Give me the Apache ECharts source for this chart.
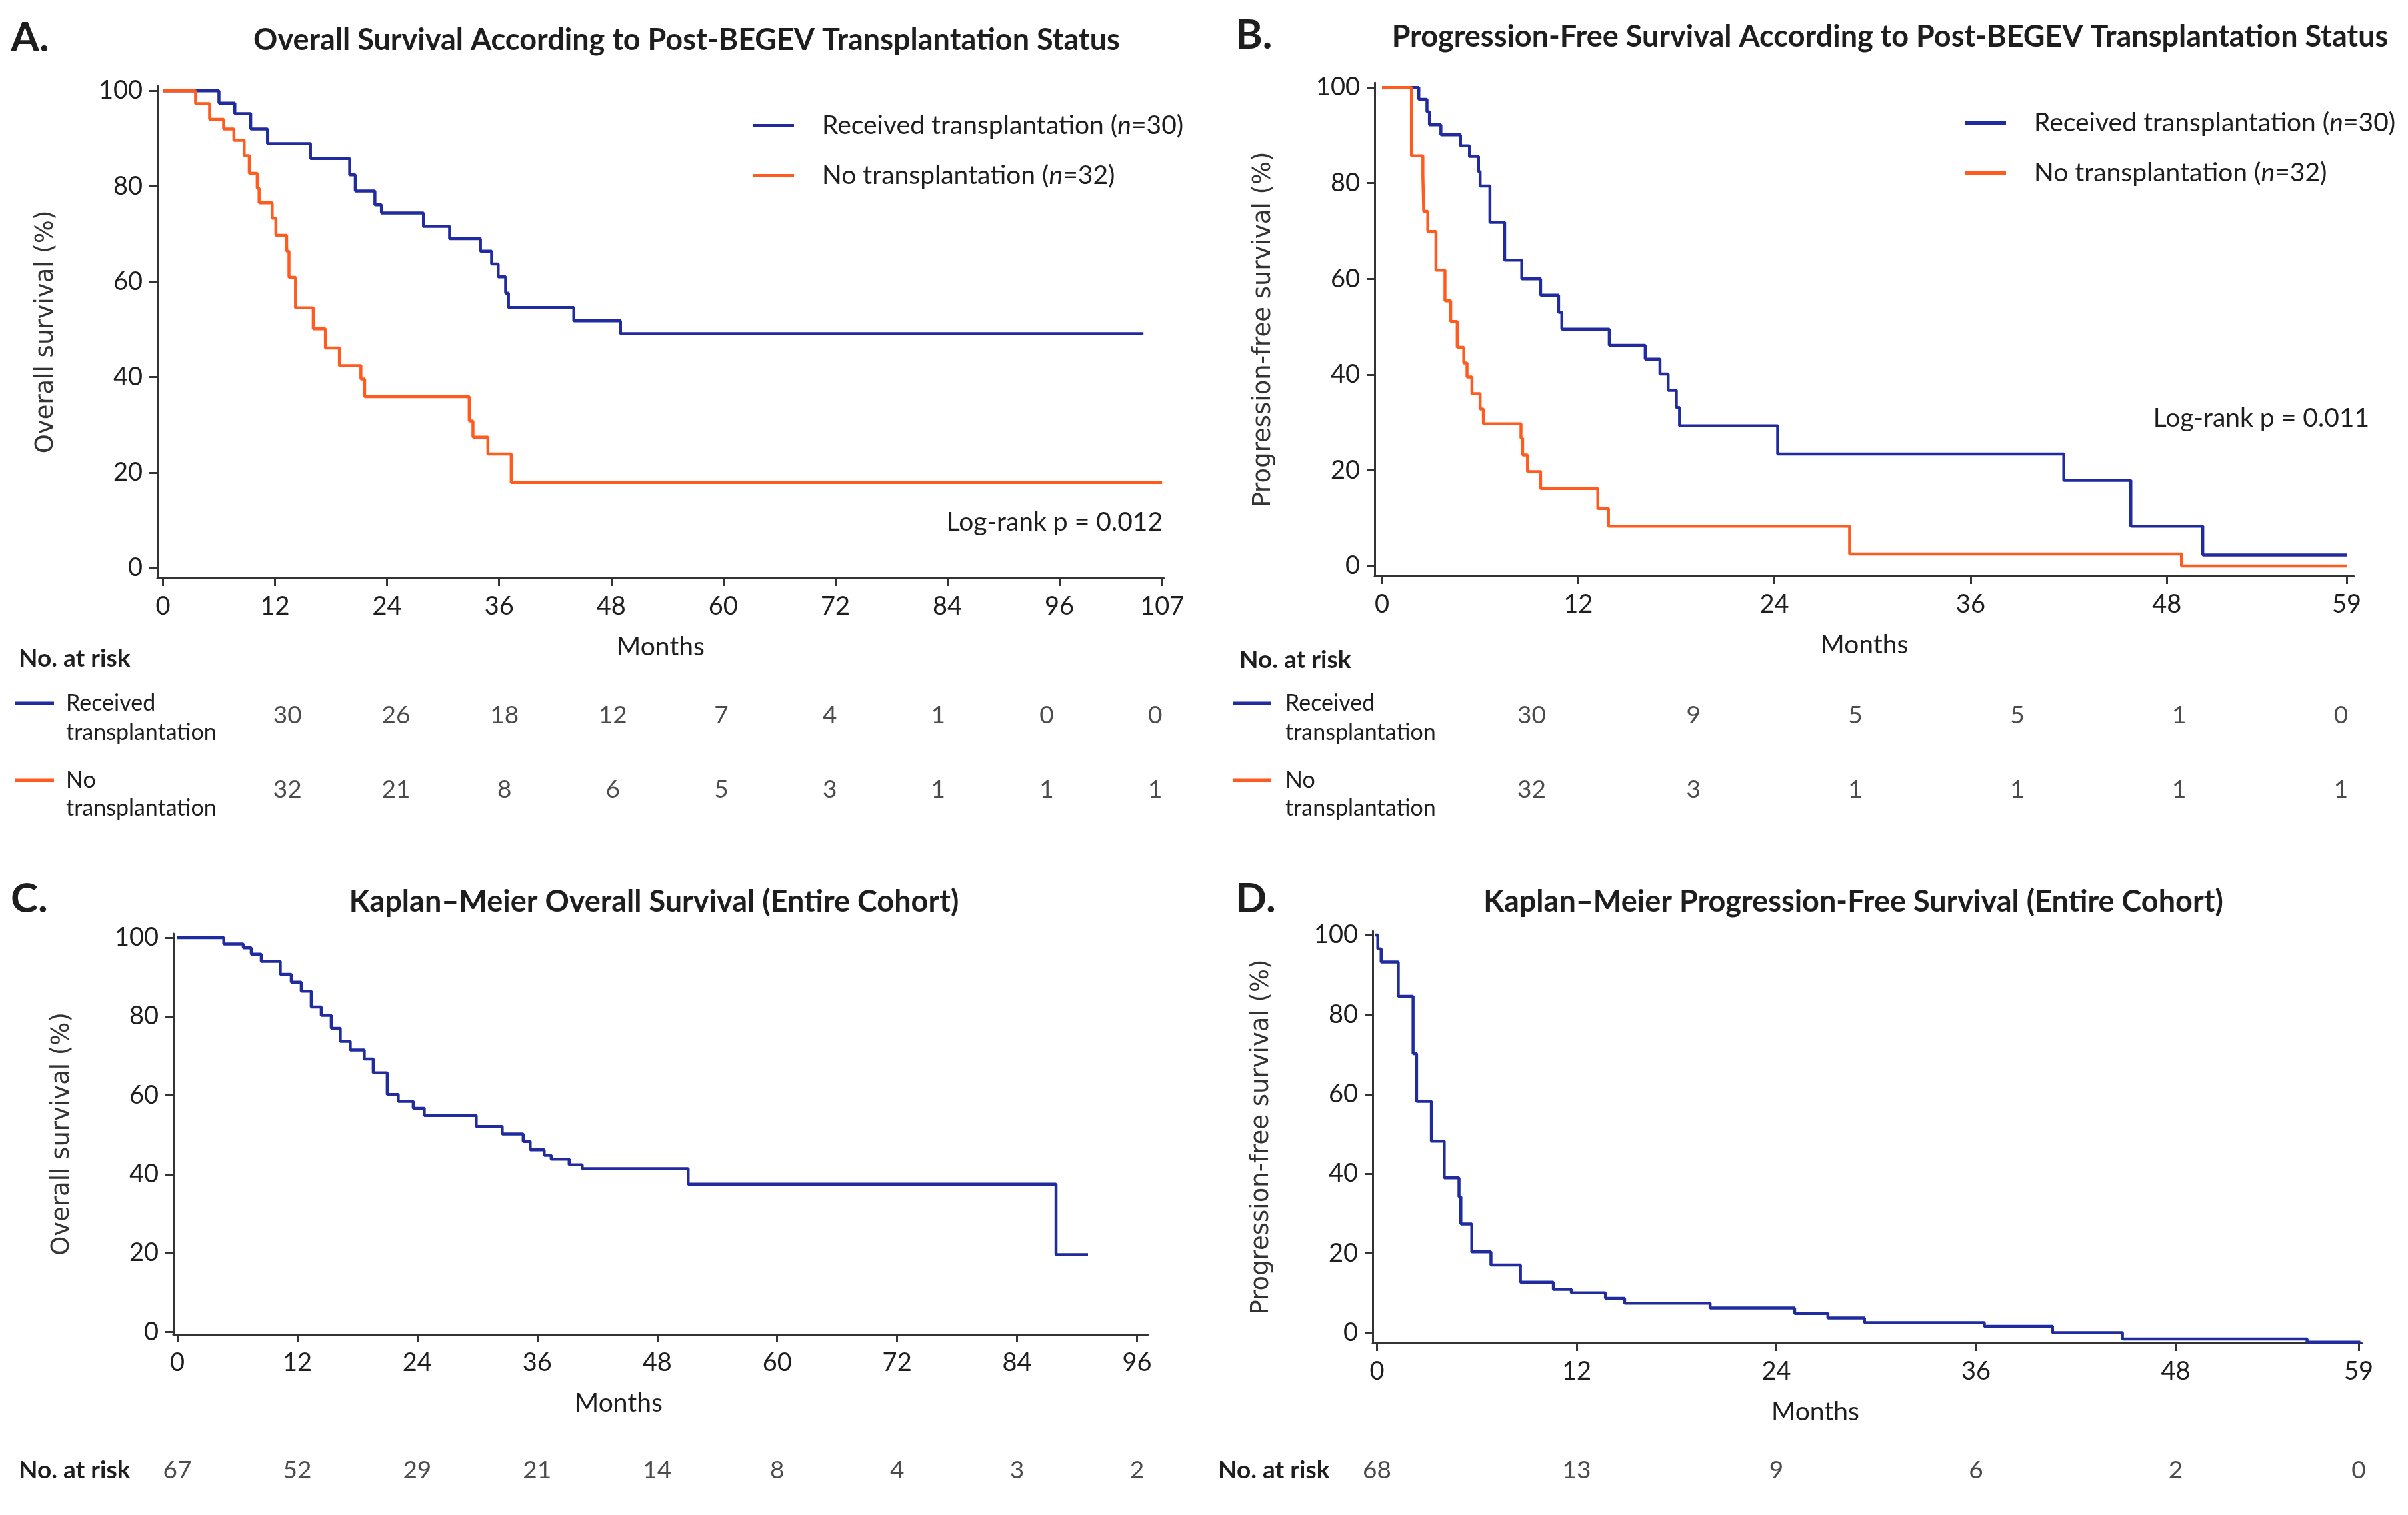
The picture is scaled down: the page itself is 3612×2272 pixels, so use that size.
<!DOCTYPE html>
<html>
<head>
<meta charset="utf-8">
<script src="https://cdn.jsdelivr.net/npm/echarts@6/dist/echarts.min.js"></script>
<style>
  html, body { margin: 0; padding: 0; background: #fff; }
  #chart { width: 3612px; height: 2272px; }
</style>
</head>
<body>
<div id="chart"></div>
<script>
// series names
var nameTx = 'Received transplantation (n=30)';
var nameNo = 'No transplantation (n=32)';

// A. overall survival by transplant status, [month, %]
var osTx = [[0,100],[6.0,97.4],[7.7,95.2],[9.4,92.0],[11.2,88.9],[15.8,85.8],[20.0,82.4],[20.6,79.0],[22.7,76.1],[23.4,74.4],[27.9,71.6],[30.7,69.0],[34.0,66.4],[35.2,63.7],[35.9,61.0],[36.7,57.6],[37.0,54.6],[44.0,51.8],[49.0,49.1],[105,49.1]];
var osNo = [[0,100],[3.5,97.3],[5.0,94.0],[6.5,92.0],[7.6,89.6],[8.7,86.4],[9.25,82.7],[10.1,79.6],[10.3,76.5],[11.7,73.3],[12.1,69.7],[13.25,66.4],[13.5,60.9],[14.2,54.5],[16.1,50.1],[17.4,46.1],[18.9,42.4],[21.2,39.6],[21.6,35.9],[32.8,30.8],[33.2,27.4],[34.8,23.9],[37.3,17.9],[107,17.9]];

// B. progression-free survival by transplant status
var pfsTx = [[0,100],[2.25,97.5],[2.75,94.9],[2.9,92.2],[3.6,90.1],[4.8,87.8],[5.35,85.6],[5.9,82.4],[6.0,79.4],[6.6,71.8],[7.5,63.9],[8.55,60.0],[9.7,56.6],[10.8,53.0],[11.0,49.5],[13.9,46.1],[16.1,43.2],[17.0,40.1],[17.5,36.7],[18.0,33.1],[18.2,29.3],[24.2,23.4],[41.7,17.9],[45.8,8.3],[50.2,2.3],[59,2.3]];
var pfsNo = [[0,100],[1.8,85.7],[2.5,81.4],[2.55,74.1],[2.8,69.9],[3.3,61.8],[3.85,55.4],[4.2,51.1],[4.6,45.7],[5.0,42.4],[5.2,39.5],[5.5,36.0],[6.0,32.8],[6.2,29.7],[8.5,26.7],[8.6,23.2],[8.9,19.7],[9.7,16.2],[13.2,12.0],[13.85,8.3],[28.6,2.5],[48.9,0],[59,0]];

// C. overall survival, entire cohort
var osAll = [[0,100],[4.65,98.4],[6.6,97.4],[7.4,95.8],[8.4,94.0],[10.3,90.7],[11.4,88.7],[12.4,86.4],[13.4,82.4],[14.4,80.3],[15.4,77.0],[16.3,73.7],[17.3,71.5],[18.7,69.2],[19.6,65.7],[21.0,60.2],[22.1,58.5],[23.6,56.7],[24.7,54.9],[29.9,52.1],[32.5,50.2],[34.6,48.3],[35.3,46.2],[36.7,44.8],[37.4,43.8],[39.2,42.4],[40.5,41.4],[51.1,37.5],[87.9,19.6],[91.1,19.6]];

// D. progression-free survival, entire cohort
var pfsAll = [[-0.13,100],[0.05,96.5],[0.25,93.2],[1.28,84.6],[2.17,70.2],[2.38,58.2],[3.27,48.2],[4.04,39.0],[4.93,34.2],[5.04,27.4],[5.7,20.4],[6.85,17.1],[8.62,12.8],[10.6,11.0],[11.68,10.1],[13.73,8.7],[14.88,7.5],[20.02,6.3],[25.1,4.9],[27.1,3.8],[29.3,2.6],[36.5,1.7],[40.6,0.1],[44.8,-1.5],[55.9,-2.3],[59.1,-2.3]];

// tick labels
var ticksA = [0,12,24,36,48,60,72,84,96,107];
var ticksB = [0,12,24,36,48,59];
var ticksC = [0,12,24,36,48,60,72,84,96];
var ticksD = [0,12,24,36,48,59];
var ticksY = [0,20,40,60,80,100];

// number at risk
var riskColsA = ['0','12','24','36','48','60','72','84','96'];
var riskTxA = [30,26,18,12,7,4,1,0,0];
var riskNoA = [32,21,8,6,5,3,1,1,1];
var riskColsB = ['0','12','24','36','48','59'];
var riskTxB = [30,9,5,5,1,0];
var riskNoB = [32,3,1,1,1,1];
var riskTimesC = [0,12,24,36,48,60,72,84,96];
var riskAllC = [67,52,29,21,14,8,4,3,2];
var riskTimesD = [0,12,24,36,48,59];
var riskAllD = [68,13,9,6,2,0];

var BLUE = '#1f2b9f';
var ORANGE = '#ff5b1f';
var INK = '#1e1e1e';
var AXIS = '#333';
var FONT = 'Lato';

var myChart = echarts.init(document.getElementById('chart'));

function mainX(grid, min, max, ticks, namePad) {
  return {
    type: 'value', gridIndex: grid, min: min, max: max,
    name: 'Months', nameLocation: 'middle', nameGap: 84,
    nameTextStyle: { fontFamily: FONT, fontSize: 39, color: INK, padding: namePad || 0 },
    axisLine: { show: true, onZero: false, lineStyle: { color: AXIS, width: 3 } },
    axisTick: { show: true, length: 12, customValues: ticks, lineStyle: { color: AXIS, width: 3 } },
    axisLabel: { customValues: ticks, margin: 24, fontFamily: FONT, fontSize: 38, color: INK },
    splitLine: { show: false }
  };
}

function mainY(grid, min, yname) {
  return {
    type: 'value', gridIndex: grid, min: min, max: 101,
    name: yname, nameLocation: 'middle', nameGap: 148, nameRotate: 90,
    nameTextStyle: { fontFamily: 'DejaVu Sans', fontSize: 37, color: AXIS },
    axisLine: { show: true, onZero: false, lineStyle: { color: AXIS, width: 3 } },
    axisTick: { show: true, length: 12, customValues: ticksY, lineStyle: { color: AXIS, width: 3 } },
    axisLabel: { customValues: ticksY, margin: 22, fontFamily: FONT, fontSize: 38, color: INK },
    splitLine: { show: false }
  };
}

function kmLine(name, grid, data, color) {
  return {
    name: name, type: 'line', step: 'end', xAxisIndex: grid, yAxisIndex: grid,
    data: data, showSymbol: false, symbol: 'none',
    lineStyle: { color: color, width: 4.5 }, itemStyle: { color: color },
    animation: false, silent: true
  };
}

// one scatter per risk row, the label shows the count
function riskRow(axis, data) {
  return {
    type: 'scatter', xAxisIndex: axis, yAxisIndex: axis, data: data,
    symbolSize: 1, itemStyle: { color: 'transparent' }, animation: false, silent: true,
    label: {
      show: true, position: 'inside', fontFamily: FONT, fontSize: 37, color: INK,
      formatter: function (p) { return p.value[2]; }
    }
  };
}

function rowsByIndex(tx, no) {
  var out = [];
  tx.forEach(function (v, i) { out.push([i, 0, v]); });
  no.forEach(function (v, i) { out.push([i, 1, v]); });
  return out;
}

function rowByTime(times, vals) {
  return vals.map(function (v, i) { return [times[i], 0, v]; });
}

function legendBox(left, top) {
  return {
    data: [nameTx, nameNo], orient: 'vertical', left: left, top: top,
    icon: 'rect', itemWidth: 62, itemHeight: 5, itemGap: 36,
    formatter: function (n) { return '{t|' + n.replace('(n', '(}{i|n}{t|') + '}'; },
    textStyle: {
      padding: [0, 0, 0, 37],
      rich: {
        t: { fontFamily: FONT, fontSize: 39, color: INK, lineHeight: 46 },
        i: { fontFamily: FONT, fontSize: 39, color: INK, fontStyle: 'italic', lineHeight: 46 }
      }
    }
  };
}

function txt(x, y, s, font, align, lh) {
  var style = { text: s, font: font, fill: INK, align: align || 'left', textAlign: align || 'left',
    verticalAlign: 'middle', textVerticalAlign: 'middle' };
  if (lh) { style.lineHeight = lh; }
  return { type: 'text', x: x, y: y, silent: true, style: style };
}

function seg(x1, x2, y, color) {
  return { type: 'line', silent: true, shape: { x1: x1, y1: y, x2: x2, y2: y }, style: { stroke: color, lineWidth: 5 } };
}

var titleFont = 'bold 45px Lato';
var letterFont = 'bold 62px Lato';
var riskHeadFont = 'bold 37px Lato';
var rowFont = '34px Lato';

var option = {
  backgroundColor: '#fff',
  animation: false,
  grid: [
    { left: 236, top: 129, width: 1510, height: 738, outerBoundsMode: 'none' },   // A
    { left: 2062, top: 124, width: 1469, height: 740, outerBoundsMode: 'none' },  // B
    { left: 260, top: 1400, width: 1462, height: 601, outerBoundsMode: 'none' },  // C
    { left: 2059, top: 1396, width: 1484, height: 618, outerBoundsMode: 'none' }, // D
    { left: 350, top: 1073, width: 1464, height: 111, outerBoundsMode: 'none' },  // risk A
    { left: 2176, top: 1073, width: 1457, height: 111, outerBoundsMode: 'none' }, // risk B
    { left: 260, top: 2180, width: 1462, height: 50, outerBoundsMode: 'none' },   // risk C
    { left: 2059, top: 2180, width: 1484, height: 50, outerBoundsMode: 'none' }   // risk D
  ],
  xAxis: [
    mainX(0, -0.6, 107.2, ticksA),
    mainX(1, -0.45, 59.45, ticksB),
    mainX(2, -0.4, 97.1, ticksC, [0, 126, 0, 0]),
    mainX(3, -0.26, 59.2, ticksD, [0, 156, 0, 0]),
    { type: 'category', gridIndex: 4, data: riskColsA, show: false },
    { type: 'category', gridIndex: 5, data: riskColsB, show: false },
    { type: 'value', gridIndex: 6, min: -0.4, max: 97.1, show: false },
    { type: 'value', gridIndex: 7, min: -0.26, max: 59.2, show: false }
  ],
  yAxis: [
    mainY(0, -2.1, 'Overall survival (%)'),
    mainY(1, -2.1, 'Progression-free survival (%)'),
    mainY(2, -0.6, 'Overall survival (%)'),
    mainY(3, -2.5, 'Progression-free survival (%)'),
    { type: 'value', gridIndex: 4, min: 0, max: 1, inverse: true, show: false },
    { type: 'value', gridIndex: 5, min: 0, max: 1, inverse: true, show: false },
    { type: 'value', gridIndex: 6, min: -1, max: 1, show: false },
    { type: 'value', gridIndex: 7, min: -1, max: 1, show: false }
  ],
  legend: [legendBox(1124, 164), legendBox(2942, 160)],
  series: [
    kmLine(nameTx, 0, osTx, BLUE),
    kmLine(nameNo, 0, osNo, ORANGE),
    kmLine(nameTx, 1, pfsTx, BLUE),
    kmLine(nameNo, 1, pfsNo, ORANGE),
    kmLine('Entire cohort OS', 2, osAll, BLUE),
    kmLine('Entire cohort PFS', 3, pfsAll, BLUE),
    riskRow(4, rowsByIndex(riskTxA, riskNoA)),
    riskRow(5, rowsByIndex(riskTxB, riskNoB)),
    riskRow(6, rowByTime(riskTimesC, riskAllC)),
    riskRow(7, rowByTime(riskTimesD, riskAllD))
  ],
  graphic: [
    txt(16, 57, 'A.', letterFont),
    txt(1030, 60, 'Overall Survival According to Post-BEGEV Transplantation Status', titleFont, 'center'),
    txt(1853, 53, 'B.', letterFont),
    txt(2835, 55, 'Progression-Free Survival According to Post-BEGEV Transplantation Status', titleFont, 'center'),
    txt(16, 1348, 'C.', letterFont),
    txt(981, 1352, 'Kaplan\u2013Meier Overall Survival (Entire Cohort)', titleFont, 'center'),
    txt(1853, 1348, 'D.', letterFont),
    txt(2780, 1352, 'Kaplan\u2013Meier Progression-Free Survival (Entire Cohort)', titleFont, 'center'),

    txt(1744, 783, 'Log-rank p = 0.012', '39px Lato', 'right'),
    txt(3554, 627, 'Log-rank p = 0.011', '39px Lato', 'right'),

    txt(28, 988, 'No. at risk', riskHeadFont),
    seg(23, 81, 1055, BLUE),
    txt(99, 1077, 'Received\ntransplantation', rowFont, 'left', 44),
    seg(23, 81, 1170, ORANGE),
    txt(99, 1191, 'No\ntransplantation', rowFont, 'left', 42),

    txt(1859, 990, 'No. at risk', riskHeadFont),
    seg(1850, 1907, 1055, BLUE),
    txt(1928, 1077, 'Received\ntransplantation', rowFont, 'left', 44),
    seg(1850, 1907, 1170, ORANGE),
    txt(1928, 1191, 'No\ntransplantation', rowFont, 'left', 42),

    txt(28, 2205, 'No. at risk', riskHeadFont),
    txt(1827, 2205, 'No. at risk', riskHeadFont)
  ]
};

myChart.setOption(option);
window.addEventListener('resize', function () {
  if (myChart) {
    myChart.resize();
  }
});
</script>
</body>
</html>
